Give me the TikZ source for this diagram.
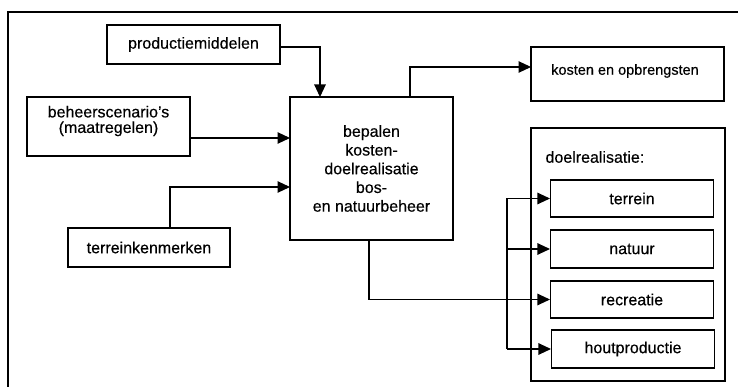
\documentclass[tikz,border=0pt]{standalone}
\usepackage{fontspec}
\setmainfont{Liberation Sans}[UprightFeatures={FakeBold=0.4}]
\usetikzlibrary{arrows.meta,calc}
\begin{document}
\begin{tikzpicture}[x=1pt,y=-1pt,
  line width=1.1pt,
  box/.style={draw, rectangle, inner sep=0pt, align=center,
    font=\fontsize{16}{18.7}\selectfont},
  txt/.style={inner sep=0pt, align=center, font=\fontsize{16}{18.7}\selectfont},
  arr/.style={-{Triangle[length=12.5pt,width=11.5pt]}}]
\useasboundingbox (0,0) rectangle (738,387);
% frame (open to the right and bottom)
\draw[line width=1.3pt] (740,12) -- (8,12) -- (8,390);
% nodes
\node[box, minimum width=173pt, minimum height=39pt] (prod) at (193.5,44.5) {productiemiddelen};
\node[box, minimum width=163pt, minimum height=59pt] (beh) at (108.5,126.5) {};
\node[txt, font=\fontsize{16}{15.5}\selectfont] (behtxt) at (108.5,121) {beheerscenario's\\(maatregelen)};
\node[box, minimum width=162pt, minimum height=39pt] (terr) at (149,247.5) {terreinkenmerken};
\node[box, minimum width=163pt, minimum height=143pt] (main) at (371.5,168.5)
  {bepalen\\kosten-\\doelrealisatie\\bos-\\en natuurbeheer};
\node[box, minimum width=193pt, minimum height=54pt] (kost) at (627.5,74) {};
\node[txt, font=\fontsize{14.5}{17}\selectfont] (kosttxt) at (625,71) {kosten en opbrengsten};
\node[box, minimum width=194pt, minimum height=253pt] (doel) at (628,254.5) {};
\node[txt, anchor=west] (doellab) at (545,157) {doelrealisatie:};
\node[box, minimum width=163pt, minimum height=37pt] (t1) at (632,198.5) {terrein};
\node[box, minimum width=163pt, minimum height=38pt] (t2) at (632,249) {natuur};
\node[box, minimum width=163pt, minimum height=37pt] (t3) at (632,299.5) {recreatie};
\node[box, minimum width=163pt, minimum height=38pt] (t4) at (633,349) {houtproductie};
% helper coordinates
\coordinate (pm) at (320,97);
\coordinate (in1) at (290,138);
\coordinate (in2) at (290,187);
\coordinate (tk) at (170,228);
\coordinate (out1) at (410,97);
\coordinate (k1) at (531,67);
\coordinate (out2) at (369,240);
\coordinate (bus) at (507,0);
% connectors
\draw[arr] (prod.east |- 0,47) -| (pm);
\draw[arr] (beh.east |- in1) -- (in1);
\draw[arr] (tk) |- (in2);
\draw[arr] (out1) |- (k1);
\draw[arr] (out2) |- (t3.west);
\draw (t1.west -| bus) -- (t4.west -| bus);
\draw[arr] (t1.west -| bus) -- (t1.west);
\draw[arr] (t2.west -| bus) -- (t2.west);
\draw[arr] (t4.west -| bus) -- (t4.west);
\end{tikzpicture}
\end{document}
